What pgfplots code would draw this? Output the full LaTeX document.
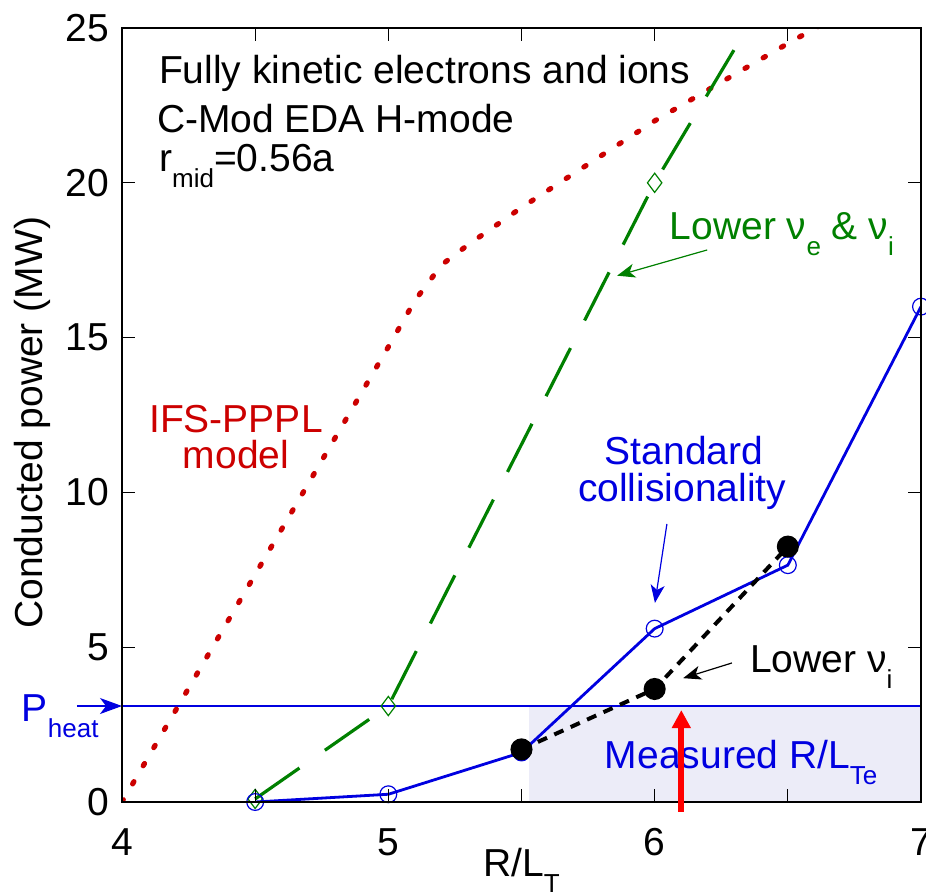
\documentclass[border=0pt]{standalone}
\usepackage{fontspec}
\setmainfont{Liberation Sans}
\usepackage{pgfplots}
\pgfplotsset{compat=1.18}
\usetikzlibrary{arrows.meta}
\definecolor{cblue}{HTML}{0000E0}
\definecolor{cgreen}{HTML}{008000}
\definecolor{cred}{HTML}{CC0000}
\definecolor{cshade}{HTML}{ECECF8}
\newcommand\fs{\fontsize{19.5bp}{23bp}\selectfont}
\newcommand\sub[1]{\raisebox{-8bp}{\fontsize{13bp}{15bp}\selectfont #1}}
\begin{document}
\begin{tikzpicture}
\begin{axis}[
  scale only axis, width=399.5bp, height=387bp,
  xmin=4, xmax=7, ymin=0, ymax=25,
  xtick={4,5,6,7}, minor xtick={4.5,5.5,6.5},
  ytick={0,5,10,15,20,25},
  tick align=inside,
  major tick length=6.5bp, minor tick length=6.5bp,
  every tick/.style={black, line width=0.6bp},
  axis line style={line width=1.3bp},
  axis on top,
  clip mode=individual,
  /pgf/number format/assume math mode=true,
  tick label style={font=\fs},
  xticklabel style={anchor=base, yshift=-26.5bp},
  yticklabel style={anchor=east, xshift=-3bp},
  xlabel={R/L\sub{T}},
  xlabel style={font=\fs, at={(axis description cs:0.5,0)}, anchor=base, yshift=-37bp},
  ylabel={Conducted power (MW)},
  ylabel style={font=\fs, at={(axis description cs:-0.1126,0.49)}, anchor=center},
]
\fill[cshade] (axis cs:5.53,0) rectangle (axis cs:7,3.1);
\addplot[cblue, line width=0.6bp] coordinates {(4,3.1) (7,3.1)};
% IFS-PPPL model
\addplot[cred, line width=2.6bp, line cap=round, dash pattern=on 1.3bp off 9.2bp] coordinates {
(4,0) (4.5,7.35) (5,14.7) (5.1,16.2) (5.2,17.35) (5.3,18.0) (5.5,19.2) (6,22.0) (6.5,24.5) (7,26.9)};
% Lower nu_e & nu_i
\addplot[cgreen, line width=1.6bp, dash pattern=on 27bp off 15.5bp] coordinates {
(4.5,0.1) (5,3.1) (6,20) (6.5,27.2)};
\addplot[cgreen, only marks, mark=diamond, mark size=4.8bp, mark options={line width=0.6bp, solid, fill=none}] coordinates {
(4.5,0.1) (5,3.1) (6,20)};
% Standard collisionality
\addplot[cblue, line width=1.4bp, mark=o, mark size=4.2bp, mark options={line width=0.6bp, solid}] coordinates {
(4.5,0) (5,0.25) (5.5,1.6) (6,5.6) (6.5,7.65) (7,16)};
% Lower nu_i
\addplot[black, line width=2bp, dash pattern=on 5bp off 4bp, mark=*, mark size=4.5bp, mark options={solid}] coordinates {
(5.5,1.7) (6,3.65) (6.5,8.25)};

\node[anchor=base west, font=\fs] at (axis cs:4.113,23.22) {Fully kinetic electrons and ions};
\node[anchor=base west, font=\fs] at (axis cs:4.105,21.61) {C-Mod EDA H-mode};
\node[anchor=base west, font=\fs] at (axis cs:4.113,20.35) {r\sub{mid}=0.56a};
\node[anchor=base, font=\fs, text=cred] at (axis cs:4.428,11.95) {IFS-PPPL};
\node[anchor=base, font=\fs, text=cred] at (axis cs:4.428,10.76) {model};
\node[anchor=base west, font=\fs, text=cgreen] at (axis cs:6.031,18.18) {Lower ν\sub{e} \& ν\sub{i}};
\node[anchor=base, font=\fs, text=cblue] at (axis cs:6.110,10.885) {Standard};
\node[anchor=base, font=\fs, text=cblue] at (axis cs:6.103,9.69) {collisionality};
\node[anchor=base west, font=\fs] at (axis cs:6.332,4.17) {Lower ν\sub{i}};
\node[anchor=base west, font=\fs, text=cblue] at (axis cs:5.787,1.066) {Measured R/L\sub{Te}};
\node[anchor=base west, font=\fs, text=cblue] at (axis cs:3.598,2.616) {P\sub{heat}};

\draw[cgreen, line width=0.6bp, -{Stealth[length=9bp,width=7bp,inset=2.5bp]}] (axis cs:6.197,17.83) -- (axis cs:5.859,17.0);
\draw[cblue, line width=0.6bp, -{Stealth[length=9bp,width=7bp,inset=2.5bp]}] (axis cs:6.046,8.98) -- (axis cs:6.001,6.43);
\draw[black, line width=0.6bp, -{Stealth[length=9bp,width=7bp,inset=2.5bp]}] (axis cs:6.29,4.49) -- (axis cs:6.107,4.0);
\draw[cblue, line width=0.6bp, -{Stealth[length=11bp,width=8bp,inset=3bp]}] (axis cs:3.831,3.1) -- (axis cs:4,3.1);

\coordinate (ra1) at (axis cs:6.1,-0.32);
\coordinate (ra2) at (axis cs:6.1,2.97);
\end{axis}
\draw[red, line width=3bp, -{Triangle[length=9bp,width=9bp]}] (ra1) -- (ra2);
\pgfresetboundingbox
\path ([shift={(-61bp,-47bp)}]current axis.south west) rectangle ([shift={(2.5bp,14bp)}]current axis.north east);
\end{tikzpicture}
\end{document}
